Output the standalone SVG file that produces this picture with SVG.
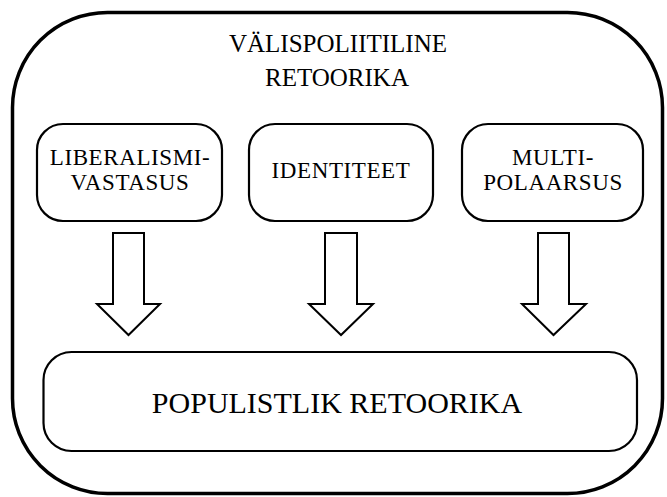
<svg xmlns="http://www.w3.org/2000/svg" width="667" height="497" viewBox="0 0 667 497">
<style>
.outer{fill:#fff;stroke:#000;stroke-width:3.5}
.box{fill:#fff;stroke:#000;stroke-width:2.2}
.arrow{fill:#fff;stroke:#000;stroke-width:2;stroke-linejoin:miter}
text{font-family:"Liberation Serif","Times New Roman",serif;fill:#000;text-anchor:middle}
.t1{font-size:25px}
.t2{font-size:23px;letter-spacing:0.6px}
.t3{font-size:30px}
</style>
<rect width="667" height="497" fill="#fff"/>
<g id="outer">
<rect class="outer" x="12.5" y="12.5" width="650" height="481" rx="95" ry="95"/>
<text class="t1" x="338" y="52">VÄLISPOLIITILINE</text>
<text class="t1" x="337" y="86">RETOORIKA</text>
</g>
<g id="liberalismivastasus">
<rect class="box" x="37" y="124" width="185" height="97" rx="26" ry="26"/>
<text class="t2" x="130" y="165">LIBERALISMI-</text>
<text class="t2" x="130" y="190">VASTASUS</text>
</g>
<g id="identiteet">
<rect class="box" x="249" y="124" width="184" height="97" rx="26" ry="26"/>
<text class="t2" x="341" y="178">IDENTITEET</text>
</g>
<g id="multipolaarsus">
<rect class="box" x="462" y="124" width="181" height="97" rx="26" ry="26"/>
<text class="t2" x="553" y="165">MULTI-</text>
<text class="t2" x="553" y="190">POLAARSUS</text>
</g>
<g id="populistlik">
<rect class="box" x="43.5" y="352" width="593.5" height="99" rx="28" ry="28"/>
<text class="t3" x="337" y="413">POPULISTLIK RETOORIKA</text>
</g>
<g id="connectors">
<polygon class="arrow" points="113,233 144,233 144,304 160,304 128.5,335 97,304 113,304"/>
<polygon class="arrow" points="325,233 357,233 357,304 373,304 341,335 309,304 325,304"/>
<polygon class="arrow" points="538,233 569,233 569,304 586,304 553.5,335 522,304 538,304"/>
</g>
</svg>
